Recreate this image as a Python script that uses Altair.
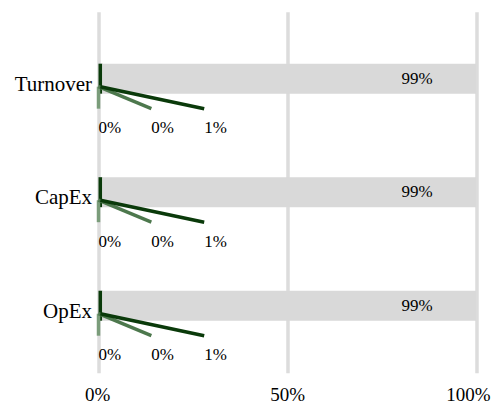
import altair as alt
import pandas as pd

categories = ["Turnover", "CapEx", "OpEx"]
segments = ["s1", "s2", "s3", "rest"]
seg_values = {
    "s1": [0, 0, 0],
    "s2": [0, 0, 0],
    "s3": [1, 1, 1],
    "rest": [99, 99, 99],
}
seg_colors = ["#7a9c7a", "#4d784d", "#0a3a0a", "#d9d9d9"]
axis_ticks = [0, 50, 100]

rows = []
for ci, cat in enumerate(categories):
    start = 0
    for si, seg in enumerate(segments):
        v = seg_values[seg][ci]
        rows.append(dict(cat=cat, seg=seg, idx=si, value=v, start=start,
                         end=start + v, mid=start + v / 2, label=f"{v}%"))
        start += v
df = pd.DataFrame(rows)

FONT = "Liberation Serif"
yenc = alt.Y("cat:N", sort=categories,
             scale=alt.Scale(paddingInner=0, paddingOuter=0.09),
             axis=alt.Axis(title=None, domain=False, ticks=False, labelFontSize=21,
                           labelFont=FONT, labelColor="black", labelPadding=7,
                           labelOffset=6))
color = alt.Color("seg:N", scale=alt.Scale(domain=segments, range=seg_colors), legend=None)

base = alt.Chart(df)

bars = base.mark_bar(size=30).encode(
    x=alt.X("start:Q", scale=alt.Scale(domain=[0, 100], nice=False),
            axis=alt.Axis(values=axis_ticks, labelExpr="datum.value + '%'", title=None,
                          domain=False, ticks=False, grid=True, gridColor="#dcdcdc",
                          gridWidth=3.5, labelFontSize=19, labelFont=FONT,
                          labelColor="black", labelPadding=13, labelFlush=True,
                          labelFlushOffset=14)),
    x2="end:Q",
    y=yenc,
    color=color,
)

small = base.transform_filter("datum.seg != 'rest'").transform_calculate(lx="datum.idx * 14")

leaders = small.mark_rule(strokeWidth=3.5, yOffset=8, y2Offset=30).encode(
    x="mid:Q", x2="lx:Q", y=yenc, y2="cat:N", color=color,
)

small_labels = small.mark_text(align="left", baseline="middle", yOffset=49.5,
                               fontSize=17, font=FONT, color="black").encode(
    x="lx:Q", y=yenc, text="label:N",
)

rest_labels = base.transform_filter("datum.seg == 'rest'").mark_text(
    align="center", baseline="middle", dx=-59, fontSize=17, font=FONT, color="black"
).encode(x="end:Q", y=yenc, text="label:N")

chart = alt.layer(bars, leaders, small_labels, rest_labels).properties(
    width=377.5, height=361,
    autosize=alt.AutoSizeParams(type="none"),
    padding={"left": 90.5, "top": 3.7, "right": 15, "bottom": 33},
).configure_view(stroke=None)

chart.save("out.html", embed_options={"renderer": "svg", "actions": False})
